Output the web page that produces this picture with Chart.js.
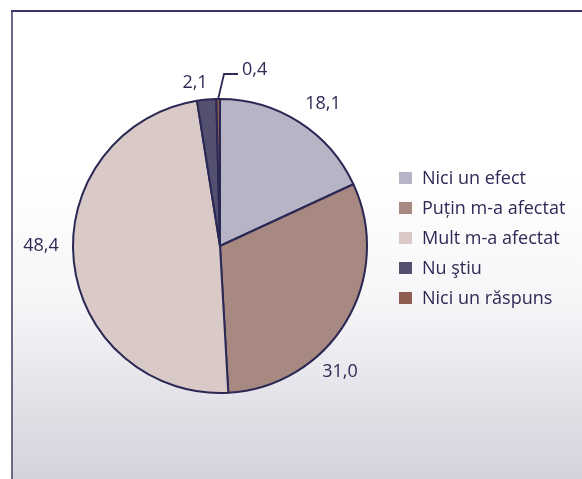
<!DOCTYPE html>
<html>
<head>
<meta charset="utf-8">
<script src="https://cdn.jsdelivr.net/npm/chart.js@4.4.4/dist/chart.umd.min.js"></script>
<style>
  html, body { margin: 0; padding: 0; background: #fff; }
  canvas { display: block; }
</style>
</head>
<body>
<canvas id="pie" width="582" height="479"></canvas>
<script>
  // --- data ---
  const categories = ['Nici un efect', 'Puțin m-a afectat', 'Mult m-a afectat', 'Nu ştiu', 'Nici un răspuns'];
  const values = [18.1, 31.0, 48.4, 2.1, 0.4];
  const valueLabels = ['18,1', '31,0', '48,4', '2,1', '0,4'];
  const colors = ['#b6b4c5', '#a88981', '#d9cac7', '#54506f', '#8f5c52'];

  const INK = '#2d2a55';
  const FONT = '"Open Sans", "Noto Sans", sans-serif';

  // label offsets from the pie centre (px), hand placed like the original
  const labelOffsets = [[103, -142], [120, 126], [-179, 0], [-25, -163], [22, -176]];

  // background panel with the two frame lines
  const framePlugin = {
    id: 'frame',
    beforeDraw(chart) {
      const ctx = chart.ctx;
      const w = chart.width, h = chart.height;
      ctx.save();
      const g = ctx.createLinearGradient(0, 180, 0, h);
      g.addColorStop(0, '#ffffff');
      g.addColorStop(0.4, '#f6f6f8');
      g.addColorStop(0.5, '#f1f0f4');
      g.addColorStop(1, '#d4d2db');
      ctx.fillStyle = g;
      ctx.fillRect(11, 10, w - 11, h - 10);
      ctx.lineWidth = 2;
      ctx.strokeStyle = '#6c6888';
      ctx.beginPath();
      ctx.moveTo(12, h);
      ctx.lineTo(12, 11);
      ctx.stroke();
      ctx.strokeStyle = '#3b3769';
      ctx.beginPath();
      ctx.moveTo(11, 11);
      ctx.lineTo(w, 11);
      ctx.stroke();
      ctx.restore();
    }
  };

  // value labels + legend
  const annotatePlugin = {
    id: 'annotate',
    afterDraw(chart) {
      const ctx = chart.ctx;
      const arcs = chart.getDatasetMeta(0).data;
      const cx = arcs[0].x, cy = arcs[0].y, r = arcs[0].outerRadius;
      ctx.save();
      ctx.fillStyle = INK;
      ctx.textBaseline = 'middle';
      ctx.font = '18px ' + FONT;

      valueLabels.forEach(function (txt, i) {
        const off = labelOffsets[i];
        if (i === 4) {
          // leader line for the thin slice
          const a = arcs[i];
          const mid = (a.startAngle + a.endAngle) / 2;
          const sx = cx + Math.cos(mid) * r, sy = cy + Math.sin(mid) * r;
          ctx.strokeStyle = INK;
          ctx.lineWidth = 1.8;
          ctx.beginPath();
          ctx.moveTo(sx, sy);
          ctx.lineTo(cx + 4, cy - 172);
          ctx.lineTo(cx + 18, cy - 172);
          ctx.stroke();
          ctx.textAlign = 'left';
        } else {
          ctx.textAlign = 'center';
        }
        ctx.fillText(txt, cx + off[0], cy + off[1]);
      });

      // legend
      ctx.font = '18px ' + FONT;
      ctx.textAlign = 'left';
      categories.forEach(function (name, i) {
        const y = 178 + i * 30;
        ctx.fillStyle = colors[i];
        ctx.fillRect(399, y - 6, 13, 12);
        ctx.fillStyle = INK;
        ctx.fillText(name, 422, y + 1);
      });
      ctx.restore();
    }
  };

  new Chart(document.getElementById('pie'), {
    type: 'pie',
    data: {
      labels: categories,
      datasets: [{
        data: values,
        backgroundColor: colors,
        borderColor: '#2b2856',
        borderWidth: 2,
        radius: 147
      }]
    },
    options: {
      responsive: false,
      animation: false,
      layout: { padding: { left: 63, top: 89, right: 205, bottom: 76 } },
      plugins: {
        legend: { display: false },
        tooltip: { enabled: false }
      }
    },
    plugins: [framePlugin, annotatePlugin]
  });
</script>
</body>
</html>
